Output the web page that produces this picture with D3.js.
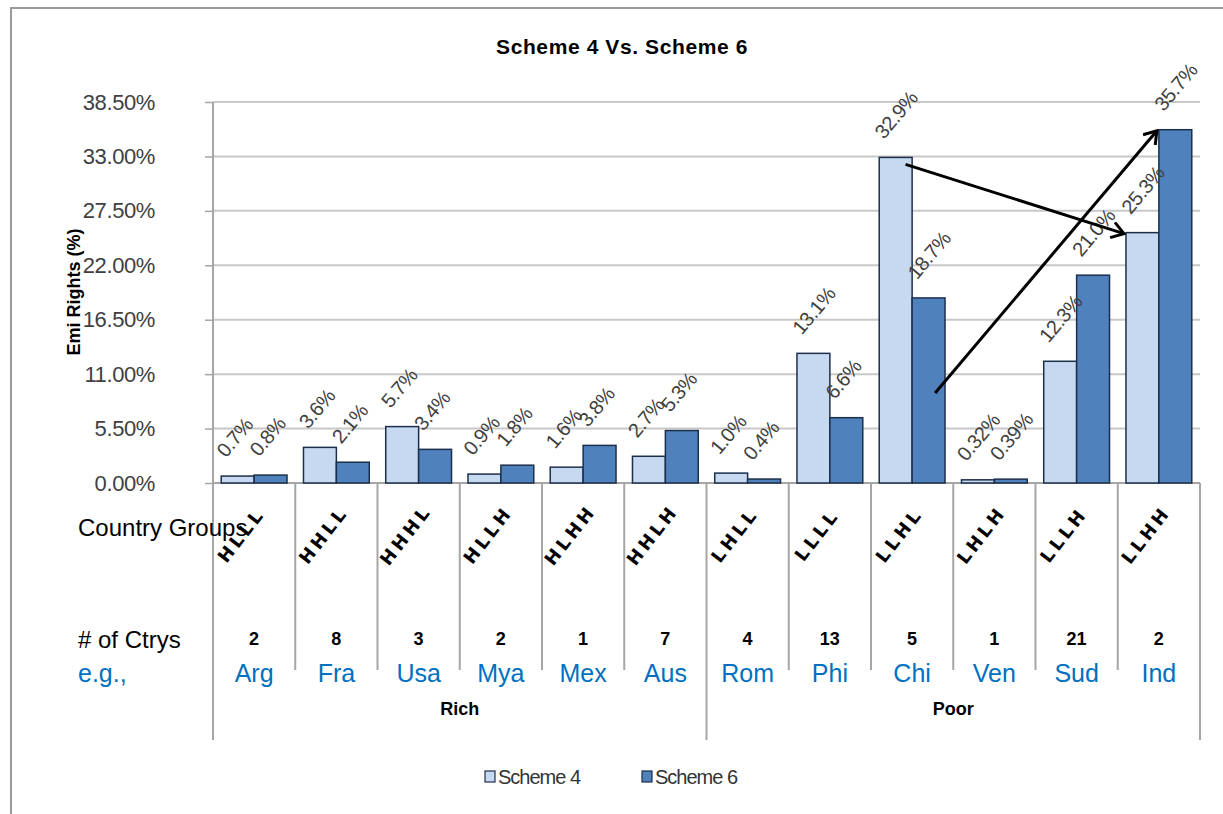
<!DOCTYPE html>
<html>
<head>
<meta charset="utf-8">
<script src="https://cdn.jsdelivr.net/npm/d3@7"></script>
<style>
  body { margin: 0; background: #fff; }
  svg { display: block; }
  text { font-family: "Liberation Sans Narrow", "Arial Narrow", "Liberation Sans", sans-serif; }
</style>
</head>
<body>
<div id="chart"></div>
<script>
'use strict';

// data
var GROUPS = ['HLLL', 'HHLL', 'HHHL', 'HLLH', 'HLHH', 'HHLH', 'LHLL', 'LLLL', 'LLHL', 'LHLH', 'LLLH', 'LLHH'];
var COUNTRIES = ['Arg', 'Fra', 'Usa', 'Mya', 'Mex', 'Aus', 'Rom', 'Phi', 'Chi', 'Ven', 'Sud', 'Ind'];
var COUNTS = [2, 8, 3, 2, 1, 7, 4, 13, 5, 1, 21, 2];
var WEALTH = ['Rich', 'Rich', 'Rich', 'Rich', 'Rich', 'Rich', 'Poor', 'Poor', 'Poor', 'Poor', 'Poor', 'Poor'];
var SERIES = ['Scheme 4', 'Scheme 6'];
var SCHEME4 = [0.7, 3.6, 5.7, 0.9, 1.6, 2.7, 1.0, 13.1, 32.9, 0.32, 12.3, 25.3];
var SCHEME6 = [0.8, 2.1, 3.4, 1.8, 3.8, 5.3, 0.4, 6.6, 18.7, 0.39, 21.0, 35.7];
var LABELS4 = ['0.7%', '3.6%', '5.7%', '0.9%', '1.6%', '2.7%', '1.0%', '13.1%', '32.9%', '0.32%', '12.3%', '25.3%'];
var LABELS6 = ['0.8%', '2.1%', '3.4%', '1.8%', '3.8%', '5.3%', '0.4%', '6.6%', '18.7%', '0.39%', '21.0%', '35.7%'];
var Y_TICKS = [0, 5.5, 11, 16.5, 22, 27.5, 33, 38.5];
// hand drawn arrows: [country, series, value] -> [country, series, value]
var ARROWS = [
  [['Chi', 'Scheme 4', 32.2], ['Ind', 'Scheme 4', 25.3]],
  [['Chi', 'Scheme 6', 9.1], ['Ind', 'Scheme 6', 35.7]]
];

var COLOR = { 'Scheme 4': '#c6d9f1', 'Scheme 6': '#4f81bd' };
var W = 1223, H = 814;
var PLOT = { left: 213, right: 1200, top: 102, bottom: 483 };

var svg = d3.select('#chart').append('svg')
  .attr('width', W)
  .attr('height', H);

// outer frame
svg.append('rect')
  .attr('x', 11).attr('y', 8)
  .attr('width', 1260).attr('height', 900)
  .style('fill', '#fff')
  .style('stroke', '#9a9a9a')
  .style('stroke-width', 2);

var x = d3.scaleBand().domain(COUNTRIES).range([PLOT.left, PLOT.right]).padding(0);
var xs = d3.scaleBand().domain(SERIES).range([0, x.bandwidth()]).paddingInner(0).paddingOuter(0.25);
var y = d3.scaleLinear().domain([0, 38.5]).range([PLOT.bottom, PLOT.top]);

// title
svg.append('text')
  .attr('x', 622).attr('y', 54)
  .attr('text-anchor', 'middle')
  .style('font-size', '21px').style('font-weight', 'bold')
  .style('letter-spacing', '0.6px')
  .text('Scheme 4 Vs. Scheme 6');

// gridlines + y axis
var yAxis = d3.axisLeft(y)
  .tickValues(Y_TICKS)
  .tickSize(8)
  .tickFormat(function(d) { return d.toFixed(2) + '%'; });

var yg = svg.append('g')
  .attr('transform', 'translate(' + PLOT.left + ',0)')
  .call(yAxis);
yg.select('.domain').remove();
yg.selectAll('.tick line').style('stroke', '#a6a6a6').style('stroke-width', 1.5);
yg.selectAll('.tick text')
  .attr('x', -58)
  .style('font-family', '"Liberation Sans", sans-serif')
  .style('font-size', '22px')
  .style('letter-spacing', '-0.4px')
  .style('fill', '#404040');

svg.append('g')
  .selectAll('line')
  .data(Y_TICKS.slice(1))
  .enter()
  .append('line')
  .attr('x1', PLOT.left).attr('x2', PLOT.right)
  .attr('y1', function(d) { return y(d); })
  .attr('y2', function(d) { return y(d); })
  .style('stroke', '#c8c8c8')
  .style('stroke-width', 2);

svg.append('text')
  .attr('transform', 'translate(80,' + 292 + ') rotate(-90)')
  .attr('text-anchor', 'middle')
  .style('font-size', '18px').style('font-weight', 'bold')
  .text('Emi Rights (%)');

// table lines under the axis
var bounds = d3.range(COUNTRIES.length + 1).map(function(i) {
  return i < COUNTRIES.length ? x(COUNTRIES[i]) : x(COUNTRIES[i - 1]) + x.bandwidth();
});
svg.append('g')
  .selectAll('line')
  .data(bounds)
  .enter()
  .append('line')
  .attr('x1', function(d) { return d; })
  .attr('x2', function(d) { return d; })
  .attr('y1', function(d, i) { return i === 0 ? PLOT.top : PLOT.bottom; })
  .attr('y2', function(d, i) { return (i === 0 || i === 6 || i === 12) ? 740 : 670; })
  .style('stroke', '#a6a6a6')
  .style('stroke-width', 2);

svg.append('line')
  .attr('x1', PLOT.left).attr('x2', PLOT.right)
  .attr('y1', PLOT.bottom).attr('y2', PLOT.bottom)
  .style('stroke', '#a6a6a6')
  .style('stroke-width', 2);

// bars
var rows = COUNTRIES.map(function(c, i) {
  return [
    { country: c, series: 'Scheme 4', value: SCHEME4[i], label: LABELS4[i] },
    { country: c, series: 'Scheme 6', value: SCHEME6[i], label: LABELS6[i] }
  ];
});
var flat = [].concat.apply([], rows);

svg.append('g')
  .selectAll('rect')
  .data(flat)
  .enter()
  .append('rect')
  .attr('x', function(d) { return x(d.country) + xs(d.series); })
  .attr('y', function(d) { return y(d.value); })
  .attr('width', xs.bandwidth())
  .attr('height', function(d) { return y(0) - y(d.value); })
  .style('fill', function(d) { return COLOR[d.series]; })
  .style('stroke', '#1c2f4a')
  .style('stroke-width', 1.5);

svg.append('g')
  .selectAll('text')
  .data(flat)
  .enter()
  .append('text')
  .attr('transform', function(d) {
    var cx = x(d.country) + xs(d.series) + xs.bandwidth() / 2;
    return 'translate(' + (cx - 17) + ',' + (y(d.value) - 22) + ') rotate(-50)';
  })
  .attr('dy', '0.35em')
  .style('font-size', '20px')
  .style('letter-spacing', '-0.5px')
  .style('fill', '#404040')
  .text(function(d) { return d.label; });

// arrows
svg.append('defs').append('marker')
  .attr('id', 'head')
  .attr('viewBox', '-14 -9 16 18')
  .attr('markerWidth', 16).attr('markerHeight', 18)
  .attr('markerUnits', 'userSpaceOnUse')
  .attr('orient', 'auto')
  .append('path')
  .attr('d', 'M-12,-8 L0,0 L-12,8')
  .style('fill', 'none')
  .style('stroke', '#000')
  .style('stroke-width', 3);

function arrowPoint(p, isEnd) {
  var bx = x(p[0]) + xs(p[1]);
  var px = isEnd ? bx : bx + xs.bandwidth() * (p[1] === 'Scheme 4' ? 0.8 : 0.7);
  return [px, y(p[2])];
}

svg.append('g')
  .selectAll('line')
  .data(ARROWS)
  .enter()
  .append('line')
  .attr('x1', function(d) { return arrowPoint(d[0], false)[0]; })
  .attr('y1', function(d) { return arrowPoint(d[0], false)[1]; })
  .attr('x2', function(d) { return arrowPoint(d[1], true)[0] - 2; })
  .attr('y2', function(d) { return arrowPoint(d[1], true)[1] + 1; })
  .attr('marker-end', 'url(#head)')
  .style('stroke', '#000')
  .style('stroke-width', 3);

// table text
var table = svg.append('g');
table.append('text').attr('x', 78).attr('y', 536)
  .style('font-size', '24px').text('Country Groups');
table.append('text').attr('x', 78).attr('y', 648)
  .style('font-size', '24px').text('# of Ctrys');
table.append('text').attr('x', 78).attr('y', 682)
  .style('font-size', '25px').style('fill', '#0070c0').text('e.g.,');

table.selectAll('.grp')
  .data(GROUPS)
  .enter()
  .append('text')
  .attr('class', 'grp')
  .attr('transform', function(d, i) {
    var cx = x(COUNTRIES[i]) + x.bandwidth() / 2;
    return 'translate(' + (cx - 13) + ',535) rotate(-52)';
  })
  .attr('text-anchor', 'middle')
  .attr('dy', '0.35em')
  .style('font-family', '"DejaVu Sans", sans-serif')
  .style('font-size', '18px')
  .style('font-weight', 'bold')
  .style('letter-spacing', '3.5px')
  .text(function(d) { return d; });

table.selectAll('.cnt')
  .data(COUNTS)
  .enter()
  .append('text')
  .attr('class', 'cnt')
  .attr('x', function(d, i) { return x(COUNTRIES[i]) + x.bandwidth() / 2; })
  .attr('y', 645)
  .attr('text-anchor', 'middle')
  .style('font-size', '18px')
  .style('font-weight', 'bold')
  .text(function(d) { return d; });

table.selectAll('.ctry')
  .data(COUNTRIES)
  .enter()
  .append('text')
  .attr('class', 'ctry')
  .attr('x', function(d) { return x(d) + x.bandwidth() / 2; })
  .attr('y', 682)
  .attr('text-anchor', 'middle')
  .style('font-size', '25px')
  .style('fill', '#0070c0')
  .text(function(d) { return d; });

var wealthGroups = d3.groups(COUNTRIES.map(function(c, i) { return { c: c, w: WEALTH[i] }; }), function(d) { return d.w; });
table.selectAll('.wealth')
  .data(wealthGroups)
  .enter()
  .append('text')
  .attr('class', 'wealth')
  .attr('x', function(g) {
    var first = g[1][0].c, last = g[1][g[1].length - 1].c;
    return (x(first) + x(last) + x.bandwidth()) / 2;
  })
  .attr('y', 715)
  .attr('text-anchor', 'middle')
  .style('font-size', '18px')
  .style('font-weight', 'bold')
  .text(function(g) { return g[0]; });

// legend
var legend = svg.append('g').attr('transform', 'translate(485,777)');
var items = legend.selectAll('g')
  .data(SERIES)
  .enter()
  .append('g')
  .attr('transform', function(d, i) { return 'translate(' + (i * 157) + ',0)'; });
items.append('rect')
  .attr('x', 0).attr('y', -6)
  .attr('width', 10).attr('height', 11)
  .style('fill', function(d) { return COLOR[d]; })
  .style('stroke', '#1c2f4a')
  .style('stroke-width', 1.2);
items.append('text')
  .attr('x', 13).attr('y', 7)
  .style('font-size', '20px')
  .style('fill', '#333')
  .style('letter-spacing', '-1px')
  .text(function(d) { return d; });
</script>
</body>
</html>
